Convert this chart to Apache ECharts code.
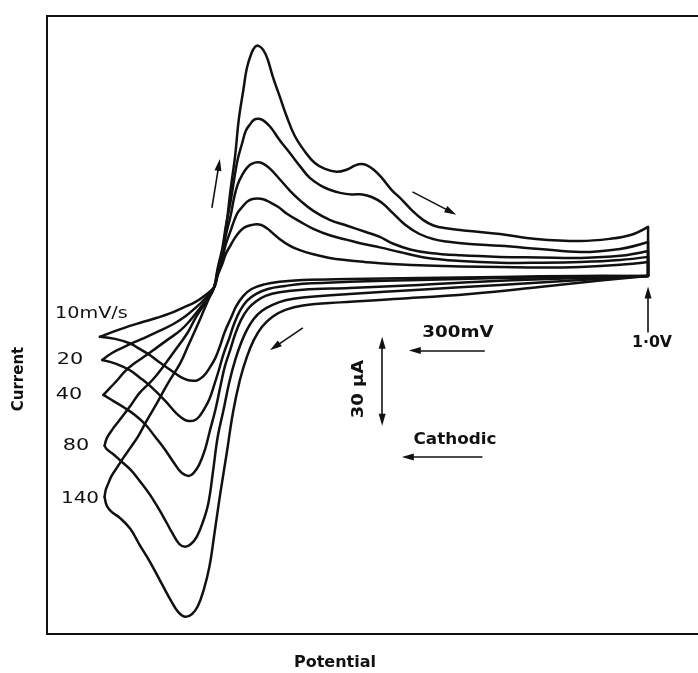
<!DOCTYPE html>
<html>
<head>
<meta charset="utf-8">
<title>Cyclic voltammograms at several scan rates</title>
<script src="https://cdn.jsdelivr.net/npm/echarts@6/dist/echarts.min.js"></script>
<style>
  html, body { margin: 0; padding: 0; background: #ffffff; }
  #chart { width: 698px; height: 673px; }
</style>
</head>
<body>
<div id="chart"></div>
<script>
// Potential in mV, current in µA. Each loop: forward (anodic) sweep from the
// negative vertex up to 1.0 V, then the return (cathodic) sweep back.

const scanRates = ['10mV/s', '20', '40', '80', '140'];

const anodic10 = [[-1350,-23.7],[-1265,-20.8],[-1180,-18.3],[-1105,-16.3],[-1050,-14.6],[-995,-12.4],[-940,-10.1],[-900,-7.6],[-860,-4.3],[-845,0.2],[-825,4.7],[-810,8.6],[-790,11.9],[-770,15],[-750,17.3],[-730,18.9],[-700,19.8],[-675,20.1],[-650,19.5],[-620,17.5],[-580,14.4],[-535,11.7],[-490,9.9],[-435,8.4],[-365,7],[-290,6.1],[-215,5.4],[-150,4.9],[20,4.1],[195,3.7],[365,3.5],[535,3.3],[710,3.5],[880,4.3],[1000,5.4]];
const cathodic10 = [[1000,0],[710,0],[365,-0.4],[20,-0.8],[-280,-1.2],[-480,-1.6],[-580,-2.3],[-645,-3.3],[-700,-5.1],[-735,-7.8],[-765,-11.7],[-790,-16.7],[-815,-21.8],[-835,-27.2],[-855,-31.9],[-880,-35.8],[-905,-38.9],[-930,-40.5],[-950,-40.8],[-975,-40.5],[-1005,-39.3],[-1040,-37.1],[-1095,-33.6],[-1135,-30.9],[-1180,-28.4],[-1220,-26.3],[-1285,-24.5],[-1350,-23.7]];

const anodic20 = [[-1340,-32.7],[-1300,-30.1],[-1250,-27.8],[-1200,-25.7],[-1150,-23.7],[-1095,-21.4],[-1035,-18.7],[-985,-15.8],[-940,-12.4],[-900,-8.9],[-860,-4.3],[-845,1.2],[-825,6.6],[-810,12.4],[-790,17.5],[-775,21.4],[-760,24.5],[-740,26.8],[-720,28.8],[-700,29.8],[-675,30.1],[-650,29.8],[-620,28.6],[-585,26.8],[-550,24.3],[-490,21],[-435,18.3],[-365,15.8],[-290,14],[-220,12.4],[-150,11.1],[-65,9.3],[40,7.2],[195,5.8],[365,5.1],[535,5.1],[710,5.4],[880,6.2],[1000,7.4]];
const cathodic20 = [[1000,0],[710,-0.4],[365,-0.8],[20,-1.6],[-280,-2.3],[-480,-3.1],[-555,-3.9],[-630,-5.1],[-680,-7],[-720,-9.7],[-750,-13.6],[-775,-18.7],[-795,-24.1],[-820,-30.3],[-840,-36.6],[-860,-42.4],[-880,-47.8],[-905,-52.1],[-925,-54.8],[-945,-56.2],[-970,-56.4],[-990,-55.8],[-1020,-53.7],[-1070,-48.6],[-1135,-42.8],[-1180,-39.5],[-1220,-36.8],[-1280,-34.2],[-1340,-32.7]];

const anodic40 = [[-1335,-46.3],[-1305,-43.4],[-1275,-40.5],[-1245,-37.3],[-1205,-34.2],[-1155,-31.1],[-1105,-27.8],[-1055,-24.5],[-1005,-21.2],[-965,-17.5],[-920,-12.4],[-890,-8.8],[-860,-4.3],[-845,2.3],[-825,8.9],[-810,15.9],[-790,23.3],[-775,30.3],[-760,35.4],[-740,39.3],[-720,42],[-700,43.6],[-670,44.2],[-645,43.4],[-620,41.6],[-580,37.7],[-535,33.1],[-490,29.2],[-435,25.3],[-365,21.8],[-290,19.5],[-210,17.1],[-150,15.2],[-95,12.6],[-20,10.3],[65,8.9],[195,8],[365,7.4],[535,7.2],[710,7],[880,7.8],[1000,9.7]];
const cathodic40 = [[1000,0],[710,-0.8],[365,-1.9],[20,-3.5],[-280,-4.7],[-480,-5.4],[-580,-6.4],[-640,-7.8],[-680,-9.9],[-715,-12.8],[-745,-17.1],[-770,-22.6],[-790,-28.4],[-815,-35.4],[-835,-43.6],[-855,-52.1],[-880,-60.7],[-900,-67.7],[-925,-73.5],[-950,-76.8],[-970,-77.8],[-1000,-76.6],[-1030,-73.1],[-1070,-67.7],[-1115,-62.4],[-1155,-57.8],[-1200,-54.1],[-1245,-51.3],[-1290,-48.8],[-1335,-46.3]];

const anodic80 = [[-1330,-66.1],[-1320,-63],[-1295,-59.5],[-1265,-56],[-1220,-50.6],[-1180,-45.5],[-1125,-40.5],[-1080,-35.4],[-1030,-29.2],[-975,-22.2],[-940,-16.3],[-910,-12.1],[-880,-8.2],[-860,-4.3],[-845,3.1],[-825,10.9],[-810,19.5],[-790,28.8],[-775,37.3],[-760,45.1],[-740,51.7],[-725,56.4],[-705,59.1],[-690,60.7],[-670,61.1],[-650,60.5],[-620,58],[-580,52.9],[-535,47.7],[-490,42.4],[-450,38.1],[-405,35.2],[-365,33.5],[-320,32.3],[-270,31.7],[-225,31.7],[-185,30.7],[-140,28.4],[-95,24.5],[-40,19.8],[20,16.3],[85,14.2],[135,13.4],[235,12.4],[365,11.7],[535,10.5],[710,9.3],[880,10.5],[1000,13.2]];
const cathodic80 = [[1000,0],[710,-1.6],[365,-3.5],[20,-5.4],[-280,-7],[-480,-8.4],[-555,-9.5],[-610,-11.3],[-655,-13.6],[-690,-16.7],[-720,-21],[-745,-26.1],[-770,-32.7],[-795,-41.2],[-820,-52.1],[-845,-62.6],[-865,-75.9],[-885,-88.3],[-910,-96.1],[-935,-101.5],[-960,-104.3],[-985,-105.4],[-1010,-104.3],[-1040,-100],[-1080,-93.4],[-1135,-85.2],[-1180,-79.7],[-1220,-75.3],[-1265,-71.6],[-1295,-69.2],[-1320,-67.5],[-1330,-66.1]];

const anodic140 = [[-1330,-86],[-1325,-83.2],[-1315,-80.9],[-1300,-77.8],[-1275,-74.3],[-1250,-70.8],[-1220,-66.9],[-1185,-62.2],[-1150,-56.4],[-1105,-49.4],[-1060,-42],[-1005,-33.8],[-970,-26.8],[-935,-19.8],[-900,-12.4],[-880,-8.2],[-860,-4.3],[-840,3.1],[-820,12.1],[-805,21.8],[-790,33.5],[-770,47.1],[-755,60.7],[-735,72.4],[-720,80.9],[-700,86.7],[-685,89.1],[-670,89.5],[-650,87.9],[-630,84],[-610,77.8],[-580,70],[-550,62.2],[-515,54.5],[-470,48.2],[-430,44],[-385,41.6],[-335,40.5],[-290,41.4],[-255,43],[-230,43.5],[-205,43],[-175,41.2],[-145,38.5],[-100,33.5],[-55,29.6],[-10,25.3],[35,21.8],[80,19.6],[135,18.5],[235,17.5],[365,16.3],[520,14.4],[710,13.6],[835,14.4],[925,15.9],[1000,19.1]];
const cathodic140 = [[1000,0],[795,-1.8],[535,-4.3],[235,-7],[-65,-8.9],[-320,-10.3],[-480,-11.5],[-555,-13.2],[-610,-15.9],[-655,-19.8],[-690,-24.9],[-720,-31.5],[-750,-40.5],[-780,-53.3],[-805,-68.1],[-835,-85.2],[-860,-100.8],[-880,-112.8],[-905,-122.1],[-930,-128.4],[-955,-131.5],[-985,-132.6],[-1015,-130.7],[-1045,-126.4],[-1080,-120.6],[-1135,-111.3],[-1180,-104.6],[-1220,-98.4],[-1265,-94.1],[-1300,-91.8],[-1320,-89.5],[-1330,-86]];

// Scale bars (mV and µA)
const scaleBarMV = 300;
const scaleBarUA = 30;

const loops = [
  { rate: scanRates[0], anodic: anodic10,  cathodic: cathodic10 },
  { rate: scanRates[1], anodic: anodic20,  cathodic: cathodic20 },
  { rate: scanRates[2], anodic: anodic40,  cathodic: cathodic40 },
  { rate: scanRates[3], anodic: anodic80,  cathodic: cathodic80 },
  { rate: scanRates[4], anodic: anodic140, cathodic: cathodic140 }
];

const INK = '#111111';
const LINE_W = 2.5;
const SMOOTH = 0.4;

// One sweep branch drawn as a single smoothed path through its points,
// positioned with the cartesian axes (api.coord).
function branchSeries(name, pts) {
  return {
    type: 'custom', name: name, data: pts, silent: true, animation: false, z: 3,
    renderItem: function (params, api) {
      if (params.dataIndex !== 0) return null;
      const points = pts.map(function (p) { return api.coord(p); });
      return {
        type: 'polyline',
        shape: { points: points, smooth: SMOOTH },
        style: { stroke: INK, lineWidth: LINE_W, fill: 'none', lineCap: 'round', lineJoin: 'round' }
      };
    }
  };
}

const series = [];
loops.forEach(function (loop) {
  series.push(branchSeries(loop.rate, loop.anodic));
  // vertical step at the switching potential
  series.push({
    type: 'line', name: loop.rate, symbol: 'none', showSymbol: false, silent: true,
    animation: false, z: 3, lineStyle: { color: INK, width: LINE_W },
    data: [loop.anodic[loop.anodic.length - 1], loop.cathodic[0]]
  });
  series.push(branchSeries(loop.rate, loop.cathodic));
});

// arrows: scale bars, sweep direction, switching potential
const arrowY300 = -29;
const arrowX30 = -140;
const arrowTop30 = -26;
series.push({
  type: 'line', data: [], symbol: 'none', silent: true, animation: false,
  markLine: {
    silent: true, animation: false,
    symbol: ['none', 'triangle'], symbolSize: [7, 12],
    label: { show: false },
    lineStyle: { color: INK, width: 1.6, type: 'solid' },
    emphasis: { disabled: true },
    data: [
      [{ coord: [scaleBarMV, arrowY300] }, { coord: [0, arrowY300] }],
      [{ coord: [arrowX30, arrowTop30], symbol: 'triangle' },
       { coord: [arrowX30, arrowTop30 - scaleBarUA], symbol: 'triangle' }],
      [{ coord: [290, -70.4] }, { coord: [-30, -70.4] }],
      [{ coord: [1000, -22] }, { coord: [1000, -6.5] }],
      [{ coord: [-870, 26.5] }, { coord: [-840, 43.2] }],
      [{ coord: [-10, 32.7] }, { coord: [155, 24.9], lineStyle: { curveness: 0.15 } }],
      [{ coord: [-480, -20.2] }, { coord: [-600, -27.6] }]
    ]
  }
});

const labelFont = "16px 'DejaVu Sans'";
const boldFont = "bold 15px 'DejaVu Sans'";
function txt(text, x, y, font, opts) {
  opts = opts || {};
  return {
    type: 'text', x: x, y: y, rotation: opts.rotation || 0,
    scaleX: opts.scaleX || 1, silent: true, z: 10,
    style: { text: text, font: font, fill: INK,
             align: opts.align || 'center', verticalAlign: 'middle' }
  };
}

const option = {
  animation: false,
  backgroundColor: '#ffffff',
  grid: {
    left: 47, top: 16, width: 661, height: 618,
    show: true, borderColor: INK, borderWidth: 2, backgroundColor: 'transparent',
    containLabel: false, outerBoundsMode: 'none'
  },
  xAxis: {
    type: 'value', min: -1577, max: 1257,
    axisLine: { show: false }, axisTick: { show: false },
    axisLabel: { show: false }, splitLine: { show: false }
  },
  yAxis: {
    type: 'value', min: -139.3, max: 101.1,
    axisLine: { show: false }, axisTick: { show: false },
    axisLabel: { show: false }, splitLine: { show: false }
  },
  series: series,
  graphic: [
    txt(scanRates[0], 55, 314, labelFont, { align: 'left', scaleX: 1.2 }),
    txt(scanRates[1], 70, 360, labelFont, { scaleX: 1.3 }),
    txt(scanRates[2], 69, 395, labelFont, { scaleX: 1.3 }),
    txt(scanRates[3], 76, 446, labelFont, { scaleX: 1.3 }),
    txt(scanRates[4], 80, 499, labelFont, { scaleX: 1.25 }),
    txt('300mV', 458, 333, boldFont, { scaleX: 1.22 }),
    txt('Cathodic', 455, 440, boldFont, { scaleX: 1.12 }),
    txt('30 µA', 359, 389, boldFont, { rotation: Math.PI / 2, scaleX: 1.2 }),
    txt('1·0V', 652, 343, boldFont, { scaleX: 1.05 }),
    txt('Current', 19, 379, "bold 15px 'DejaVu Sans'", { rotation: Math.PI / 2 }),
    txt('Potential', 335, 663, "bold 16px 'DejaVu Sans'")
  ]
};

const chart = echarts.init(document.getElementById('chart'), null, { renderer: 'canvas' });
chart.setOption(option);
</script>
</body>
</html>
